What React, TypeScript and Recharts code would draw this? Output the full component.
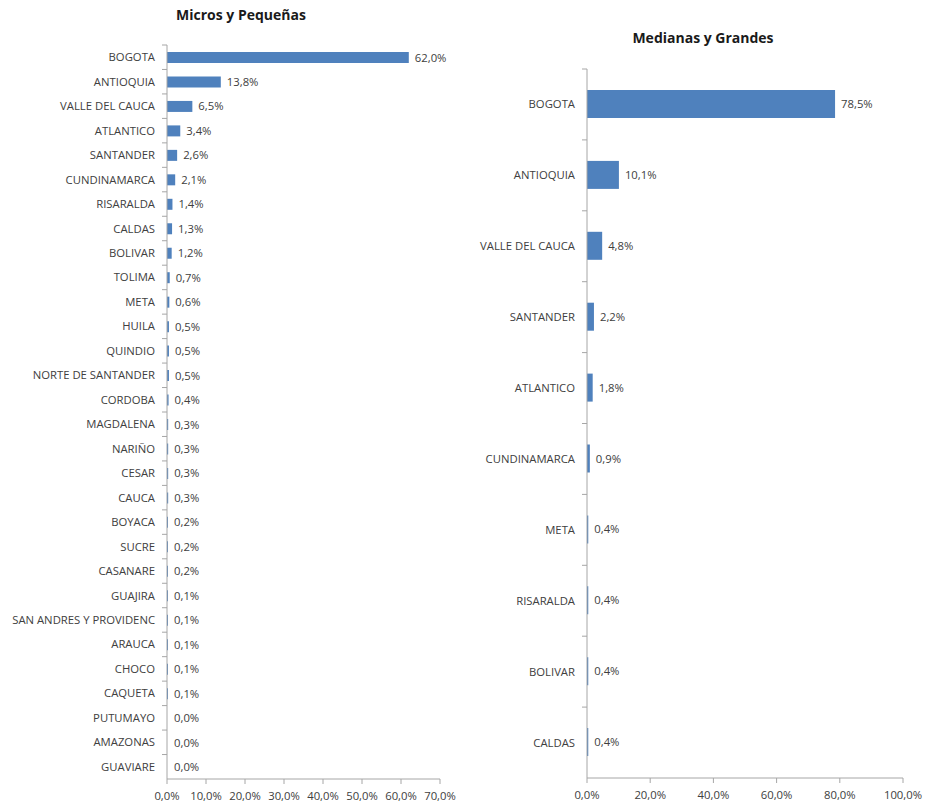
import React from 'react';
import { BarChart, Bar, XAxis, YAxis, LabelList, Cell } from 'recharts';

// Micros y Pequeñas
const smallDepts = [
  'BOGOTA', 'ANTIOQUIA', 'VALLE DEL CAUCA', 'ATLANTICO', 'SANTANDER', 'CUNDINAMARCA',
  'RISARALDA', 'CALDAS', 'BOLIVAR', 'TOLIMA', 'META', 'HUILA', 'QUINDIO',
  'NORTE DE SANTANDER', 'CORDOBA', 'MAGDALENA', 'NARIÑO', 'CESAR', 'CAUCA', 'BOYACA',
  'SUCRE', 'CASANARE', 'GUAJIRA', 'SAN ANDRES Y PROVIDENC', 'ARAUCA', 'CHOCO',
  'CAQUETA', 'PUTUMAYO', 'AMAZONAS', 'GUAVIARE'
];
const smallShare = [
  62.0, 13.8, 6.5, 3.4, 2.6, 2.1, 1.4, 1.3, 1.2, 0.7, 0.6, 0.5, 0.5, 0.5, 0.4,
  0.3, 0.3, 0.3, 0.3, 0.2, 0.2, 0.2, 0.1, 0.1, 0.1, 0.1, 0.1, 0.0, 0.0, 0.0
];
const smallTicks = [0, 10, 20, 30, 40, 50, 60, 70];

// Medianas y Grandes
const bigDepts = [
  'BOGOTA', 'ANTIOQUIA', 'VALLE DEL CAUCA', 'SANTANDER', 'ATLANTICO',
  'CUNDINAMARCA', 'META', 'RISARALDA', 'BOLIVAR', 'CALDAS'
];
const bigShare = [78.5, 10.1, 4.8, 2.2, 1.8, 0.9, 0.4, 0.4, 0.4, 0.4];
const bigTicks = [0, 20, 40, 60, 80, 100];

const smallData = smallDepts.map((name, i) => ({ name, value: smallShare[i] }));
const bigData = bigDepts.map((name, i) => ({ name, value: bigShare[i] }));

const FONT = '"Open Sans", sans-serif';
const FS = 11.3;
const TEXT = '#404040';
const AXIS = '#a6a6a6';
const BLUE = '#4f81bd';

const pct = (v: any) => Number(v).toFixed(1).replace('.', ',') + '%';

const makeTick = (band: number) => (props: any) => {
  const { x, y, payload } = props;
  const ax = x + 12;
  return (
    <g>
      <line x1={ax - 5} x2={ax} y1={y - band / 2} y2={y - band / 2} stroke={AXIS} />
      <text x={x} y={y} dy={4} textAnchor="end" fontSize={FS} fill={TEXT} fontFamily={FONT}>
        {payload.value}
      </text>
    </g>
  );
};

const Panel = ({ data, ticks, max, width, axisW, top, bottom, right, barSize }: any) => {
  const band = (809 - top - bottom) / data.length;
  return (
    <BarChart
      width={width}
      height={809}
      data={data}
      layout="vertical"
      margin={{ top, right, bottom: 0, left: 0 }}
      barCategoryGap={0}
    >
      <XAxis
        type="number"
        domain={[0, max]}
        ticks={ticks}
        interval={0}
        height={bottom}
        tickFormatter={pct}
        stroke={AXIS}
        tick={{ fontSize: FS, fill: TEXT, fontFamily: FONT }}
        tickSize={5}
        tickMargin={8}
      />
      <YAxis
        type="category"
        dataKey="name"
        width={axisW}
        interval={0}
        stroke={AXIS}
        tickSize={0}
        tickMargin={12}
        tick={makeTick(band)}
      />
      <Bar dataKey="value" fill={BLUE} barSize={barSize} minPointSize={1} isAnimationActive={false}>
        {data.map((d: any) => (
          <Cell key={d.name} fill={d.value === 0 ? 'transparent' : BLUE} />
        ))}
        <LabelList
          dataKey="value"
          position="right"
          offset={6}
          formatter={pct}
          style={{ fontSize: FS, fill: TEXT, fontFamily: FONT }}
        />
      </Bar>
    </BarChart>
  );
};

const titleStyle: React.CSSProperties = {
  position: 'absolute',
  fontFamily: FONT,
  fontWeight: 'bold',
  fontSize: 14,
  color: '#1a1a1a',
  textAlign: 'center',
  width: 300,
};

export default function App() {
  return (
    <div style={{ position: 'absolute', left: 0, top: 0, width: 925, height: 809, background: '#fff' }}>
      <div style={{ ...titleStyle, left: 91, top: 5 }}>Micros y Pequeñas</div>
      <div style={{ ...titleStyle, left: 553, top: 28 }}>Medianas y Grandes</div>
      <div style={{ position: 'absolute', left: 0, top: 0 }}>
        <Panel data={smallData} ticks={smallTicks} max={70} width={470} axisW={167}
          top={45} bottom={30} right={30} barSize={11} />
      </div>
      <div style={{ position: 'absolute', left: 470, top: 0 }}>
        <Panel data={bigData} ticks={bigTicks} max={100} width={455} axisW={117}
          top={69} bottom={31} right={22} barSize={28} />
      </div>
    </div>
  );
}
